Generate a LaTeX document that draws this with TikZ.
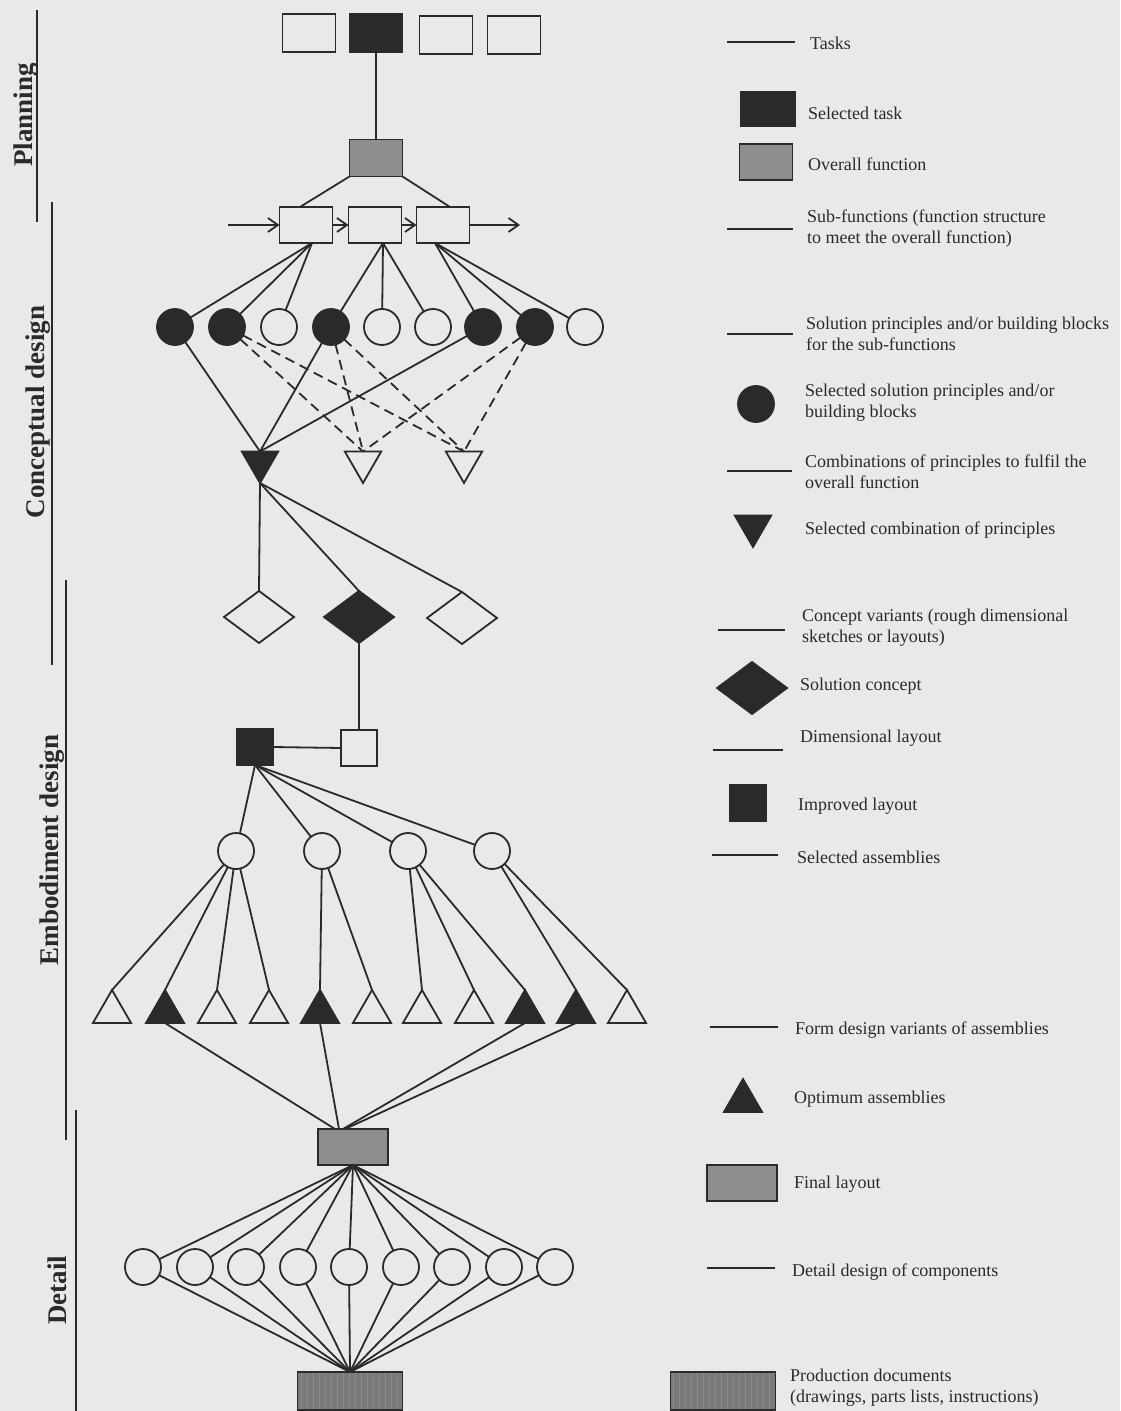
\documentclass[tikz,border=0pt]{standalone}
\usepackage{fontspec}
\setmainfont{Liberation Serif}
\usetikzlibrary{shapes.geometric,arrows.meta,patterns}
\definecolor{paper}{HTML}{E9E9E9}
\definecolor{ink}{HTML}{2A2A2A}
\definecolor{midgray}{HTML}{8E8E8E}
\definecolor{docgray}{HTML}{7A7A7A}

\begin{document}
\begin{tikzpicture}[x=0.5pt,y=-0.5pt,
  every node/.style={inner sep=0pt, outer sep=0pt},
  link/.style={draw=ink, line width=0.9pt},
  alt/.style={link, dash pattern=on 5pt off 3pt},
  flow/.style={link, -{Straight Barb[length=5pt,width=7pt]}},
  outline/.style={draw=ink, line width=0.9pt},
  taskbox/.style={outline, rectangle, minimum width=26.5pt, minimum height=19pt},
  taskon/.style={taskbox, fill=ink},
  overall/.style={outline, rectangle, fill=midgray, minimum width=26.5pt, minimum height=18.5pt},
  subfn/.style={outline, rectangle, minimum width=26.5pt, minimum height=18pt},
  princ/.style={outline, circle, minimum size=18pt},
  princon/.style={princ, fill=ink},
  combo/.style={outline, regular polygon, regular polygon sides=3, shape border rotate=180, minimum size=21pt},
  comboon/.style={combo, fill=ink},
  variant/.style={outline, diamond, minimum width=35pt, minimum height=26pt},
  varianton/.style={variant, fill=ink},
  lay/.style={outline, rectangle, minimum size=18pt},
  layon/.style={lay, fill=ink},
  assy/.style={outline, circle, minimum size=18pt},
  form/.style={outline, regular polygon, regular polygon sides=3, minimum size=22pt},
  formon/.style={form, fill=ink},
  final/.style={outline, rectangle, fill=midgray, minimum width=35pt, minimum height=18pt},
  comp/.style={outline, circle, minimum size=18pt},
  docs/.style={outline, rectangle, minimum width=52.5pt, minimum height=19pt,
    preaction={fill=docgray}, pattern=vertical lines, pattern color=ink!55},
  legend/.style={anchor=west, align=left, text=ink, font=\fontsize{9}{10.5}\selectfont},
  phase/.style={rotate=90, text=ink, font=\fontsize{13.5}{16}\selectfont\bfseries},
  rule/.style={draw=ink, line width=0.8pt}
]
\useasboundingbox (0,0) rectangle (1120,1411);
\fill[paper] (0,0) rectangle (1120,1411);

% ---------- phase labels and separators ----------
\node[phase] (ph1) at (26,115) {Planning};
\node[phase] (ph2) at (38,412) {Conceptual design};
\node[phase] (ph3) at (52,850) {Embodiment design};
\node[phase] (ph4) at (57,1290) {Detail};
\draw[rule] (37,10) -- (37,222);
\draw[rule] (52,202) -- (52,665);
\draw[rule] (66,580) -- (66,1140);
\draw[rule] (76,1110) -- (76,1411);

% ---------- planning ----------
\node[taskbox] (r1) at (309,33) {};
\node[taskon]  (r2) at (376,33) {};
\node[taskbox] (r3) at (446,35) {};
\node[taskbox] (r4) at (514,35) {};
\node[overall] (of) at (376,158) {};
\draw[link] (r2.south) -- (of.north);

% ---------- function structure ----------
\node[subfn] (b1) at (306,225) {};
\node[subfn] (b2) at (375,225) {};
\node[subfn] (b3) at (443,225) {};
\coordinate (fin)  at (228,225);
\coordinate (fout) at (520,225);
\draw[link] (of.south west) -- ([xshift=-3pt]b1.north);
\draw[link] (of.south east) -- ([xshift=3.5pt]b3.north);
\draw[flow] (fin) -- (b1.west);
\draw[flow] (b1.east) -- (b2.west);
\draw[flow] (b2.east) -- (b3.west);
\draw[flow] (b3.east) -- (fout);

% ---------- solution principles ----------
\node[princon] (c1) at (175,327) {};
\node[princon] (c2) at (227,327) {};
\node[princ]   (c3) at (279,327) {};
\node[princon] (c4) at (331,327) {};
\node[princ]   (c5) at (382,327) {};
\node[princ]   (c6) at (433,327) {};
\node[princon] (c7) at (483,327) {};
\node[princon] (c8) at (535,327) {};
\node[princ]   (c9) at (585,327) {};
\foreach \c in {c1,c2,c3} \draw[link] ([xshift=3pt]b1.south) -- (\c);
\foreach \c in {c4,c5,c6} \draw[link] ([xshift=4pt]b2.south) -- (\c);
\foreach \c in {c7,c8,c9} \draw[link] ([xshift=-4pt]b3.south) -- (\c);

% ---------- combinations ----------
\node[comboon] (t1) at (260,462) {};
\node[combo]   (t2) at (363,462) {};
\node[combo]   (t3) at (464,462) {};
\foreach \c in {c1,c4,c7} \draw[link] (\c) -- (t1.north);
\foreach \c in {c2,c4,c8} {
  \draw[alt] (\c) -- (t2.north);
  \draw[alt] (\c) -- (t3.north);
}

% ---------- concept variants ----------
\node[variant]   (d1) at (259,617) {};
\node[varianton] (d2) at (359,617) {};
\node[variant]   (d3) at (462,618) {};
\foreach \d in {d1,d2,d3} \draw[link] (t1.south) -- (\d.north);

% ---------- layouts ----------
\node[layon] (sq1) at (255,747) {};
\node[lay]   (sq2) at (359,748) {};
\draw[link] (d2.south) -- (sq2.north);
\draw[link] (sq2.west) -- (sq1.east);

% ---------- assemblies ----------
\node[assy] (e1) at (236,851) {};
\node[assy] (e2) at (322,851) {};
\node[assy] (e3) at (408,851) {};
\node[assy] (e4) at (492,851) {};
\foreach \e in {e1,e2,e3,e4} \draw[link] (sq1.south) -- (\e);

% ---------- form design variants ----------
\node[form]   (f1)  at (112,1012) {};
\node[formon] (f2)  at (165,1012) {};
\node[form]   (f3)  at (217,1012) {};
\node[form]   (f4)  at (269,1012) {};
\node[formon] (f5)  at (320,1012) {};
\node[form]   (f6)  at (372,1012) {};
\node[form]   (f7)  at (422,1012) {};
\node[form]   (f8)  at (474,1012) {};
\node[formon] (f9)  at (525,1012) {};
\node[formon] (f10) at (576,1012) {};
\node[form]   (f11) at (627,1012) {};
\foreach \f in {f1,f2,f3,f4} \draw[link] (e1) -- (\f.north);
\foreach \f in {f5,f6} \draw[link] (e2) -- (\f.north);
\foreach \f in {f7,f8,f9} \draw[link] (e3) -- (\f.north);
\foreach \f in {f10,f11} \draw[link] (e4) -- (\f.north);

% ---------- final layout and details ----------
\node[final] (fl) at (353,1147) {};
\draw[link] (f2.south)  -- ([xshift=-9pt]fl.north);
\draw[link] (f5.south)  -- ([xshift=-7pt]fl.north);
\draw[link] (f9.south)  -- ([xshift=-5pt]fl.north);
\draw[link] (f10.south) -- ([xshift=-4pt]fl.north);

\node[docs] (pd) at (350,1391) {};
\foreach \i/\x in {1/143,2/195,3/246,4/298,5/349,6/401,7/452,8/504,9/555} {
  \node[comp] (k\i) at (\x,1267) {};
  \draw[link] (fl.south) -- (k\i);
  \draw[link] (k\i) -- (pd.north);
}

% ---------- key ----------
\draw[link] (727,42) -- (795,42);
\node[legend] (l1) at (810,43) {Tasks};

\node[outline, fill=ink, minimum width=27pt, minimum height=17.5pt] (s2) at (768,109) {};
\node[legend] (l2) at (808,113) {Selected task};

\node[outline, fill=midgray, minimum width=26.5pt, minimum height=18pt] (s3) at (766,162) {};
\node[legend] (l3) at (808,164) {Overall function};

\draw[link] (727,229) -- (793,229);
\node[legend] (l4) at (807,229) {Sub-functions (function structure\\to meet the overall function)};

\draw[link] (727,334) -- (793,334);
\node[legend] (l5) at (806,334) {Solution principles and/or building blocks\\for the sub-functions};

\node[princon] (s6) at (756,404) {};
\node[legend] (l6) at (805,403) {Selected solution principles and/or\\building blocks};

\draw[link] (727,471) -- (792,471);
\node[legend] (l7) at (805,472) {Combinations of principles to fulfil the\\overall function};

\node[comboon] (s8) at (753,526) {};
\node[legend] (l8) at (805,530) {Selected combination of principles};

\draw[link] (718,630) -- (785,630);
\node[legend] (l9) at (802,628) {Concept variants (rough dimensional\\sketches or layouts)};

\node[varianton] (s10) at (752,688) {};
\node[legend] (l10) at (800,686) {Solution concept};

\draw[link] (713,750) -- (783,750);
\node[legend] (l11) at (800,738) {Dimensional layout};

\node[layon] (s12) at (748,803) {};
\node[legend] (l12) at (798,806) {Improved layout};

\draw[link] (712,855) -- (778,855);
\node[legend] (l13) at (797,857) {Selected assemblies};

\draw[link] (710,1027) -- (778,1027);
\node[legend] (l14) at (795,1030) {Form design variants of assemblies};

\node[formon] (s15) at (743,1101) {};
\node[legend] (l15) at (794,1099) {Optimum assemblies};

\node[final] (s16) at (742,1183) {};
\node[legend] (l16) at (794,1184) {Final layout};

\draw[link] (707,1268) -- (775,1268);
\node[legend] (l17) at (792,1272) {Detail design of components};

\node[docs] (s18) at (723,1391) {};
\node[legend] (l18) at (790,1388) {Production documents\\(drawings, parts lists, instructions)};
\end{tikzpicture}
\end{document}
